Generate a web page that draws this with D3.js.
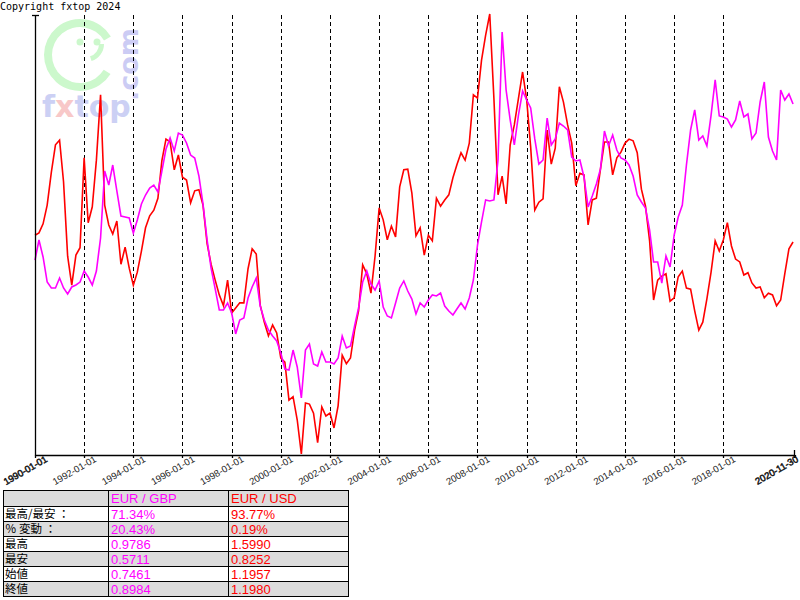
<!DOCTYPE html>
<html><head><meta charset="utf-8">
<script src="https://cdn.jsdelivr.net/npm/d3@7"></script>
<style>body{margin:0;background:#fff}svg{display:block}</style>
</head><body>
<svg id="c" width="800" height="600"></svg>
<script>
// EUR/USD, bimonthly readings 1990-01 .. 2020-11
const eurUsd = [
1.210,1.214,1.230,1.263,1.321,1.369,1.377,1.304,1.173,1.122,
1.175,1.188,1.346,1.232,1.260,1.342,1.457,1.263,1.228,1.212,
1.235,1.159,1.189,1.152,1.122,1.145,1.182,1.223,1.244,1.254,
1.275,1.341,1.379,1.374,1.325,1.351,1.312,1.307,1.267,1.288,
1.290,1.263,1.195,1.159,1.131,1.105,1.086,1.131,1.073,1.082,
1.091,1.091,1.151,1.186,1.177,1.087,1.057,1.033,1.052,1.038,
0.994,0.987,0.920,0.926,0.885,0.8252,0.915,0.913,0.897,0.845,
0.908,0.892,0.897,0.871,0.910,0.999,0.984,0.994,1.043,1.077,
1.158,1.142,1.108,1.173,1.258,1.237,1.202,1.226,1.207,1.295,
1.325,1.326,1.284,1.209,1.223,1.175,1.210,1.200,1.275,1.261,
1.272,1.281,1.311,1.334,1.355,1.342,1.372,1.457,1.451,1.518,
1.562,1.599,1.450,1.281,1.314,1.265,1.369,1.404,1.451,1.497,
1.448,1.365,1.254,1.268,1.274,1.395,1.335,1.363,1.471,1.444,
1.404,1.372,1.297,1.319,1.316,1.228,1.272,1.275,1.326,1.374,
1.374,1.316,1.346,1.356,1.372,1.379,1.376,1.355,1.291,1.261,
1.200,1.096,1.131,1.138,1.142,1.094,1.100,1.137,1.147,1.117,
1.115,1.077,1.043,1.057,1.098,1.144,1.200,1.182,1.202,1.232,
1.191,1.168,1.163,1.140,1.144,1.126,1.117,1.119,1.100,1.108,
1.105,1.086,1.096,1.142,1.186,1.198];

// EUR/GBP, bimonthly readings 1990-01 .. 2020-11
const eurGbp = [
0.7247,0.7470,0.7281,0.7002,0.6936,0.6936,0.7047,0.6936,0.6869,0.6947,
0.6969,0.7002,0.7125,0.7058,0.6969,0.7125,0.7492,0.8238,0.8082,0.8305,
0.8016,0.7737,0.7726,0.7715,0.7548,0.7693,0.7871,0.7971,0.8049,0.8082,
0.8005,0.8238,0.8483,0.8606,0.8461,0.8661,0.8639,0.8550,0.8416,0.8383,
0.8183,0.7871,0.7470,0.7158,0.6925,0.6691,0.6691,0.6769,0.6657,0.6424,
0.6579,0.6602,0.6824,0.6947,0.7047,0.6735,0.6579,0.6468,0.6401,0.6346,
0.6212,0.6034,0.6023,0.6245,0.6056,0.5711,0.6245,0.6312,0.6089,0.6067,
0.6223,0.6112,0.6112,0.6089,0.6156,0.6401,0.6268,0.6290,0.6513,0.6713,
0.7002,0.7125,0.6980,0.6913,0.7014,0.6724,0.6624,0.6602,0.6769,0.6936,
0.7014,0.6902,0.6813,0.6646,0.6769,0.6724,0.6802,0.6858,0.6847,0.6880,
0.6735,0.6680,0.6635,0.6702,0.6769,0.6702,0.6824,0.7025,0.7414,0.7671,
0.7916,0.7904,0.7916,0.8361,0.9786,0.9140,0.8806,0.8528,0.8862,0.9129,
0.9029,0.8940,0.8595,0.8316,0.8361,0.8828,0.8528,0.8595,0.8773,0.8739,
0.8695,0.8394,0.8350,0.8361,0.8172,0.7838,0.7960,0.8094,0.8261,0.8684,
0.8517,0.8639,0.8472,0.8383,0.8361,0.8305,0.8183,0.7971,0.7893,0.7826,
0.7581,0.7225,0.7225,0.6991,0.7292,0.7170,0.7526,0.7726,0.7860,0.8305,
0.8695,0.8918,0.8584,0.8628,0.8517,0.8851,0.9252,0.8851,0.8840,0.8817,
0.8728,0.8806,0.9018,0.8840,0.8873,0.8595,0.8661,0.9007,0.9229,0.8617,
0.8461,0.8361,0.9140,0.9029,0.9096,0.8984];

const tickLabels = ["1990-01-01","1992-01-01","1994-01-01","1996-01-01","1998-01-01",
  "2000-01-01","2002-01-01","2004-01-01","2006-01-01","2008-01-01","2010-01-01",
  "2012-01-01","2014-01-01","2016-01-01","2018-01-01","2020-11-30"];

const seriesNames = ["EUR / GBP", "EUR / USD"];
const seriesColors = ["#ff00ff", "#ff0000"];
const rowLabels = ["最高/最安 ：", "％ 変動 ：", "最高", "最安", "始値", "終値"];
const gbpStats = ["71.34%", "20.43%", "0.9786", "0.5711", "0.7461", "0.8984"];
const usdStats = ["93.77%", "0.19%", "1.5990", "0.8252", "1.1957", "1.1980"];

const svg = d3.select("#c");
const parse = d3.utcParse("%Y-%m-%d");
const dates = d3.utcMonth.every(2).range(Date.UTC(1990,0,1), Date.UTC(2020,11,1));

const L = 35, R = 795, T = 15, B = 455;
const x = d3.scaleUtc().domain([parse("1990-01-01"), parse("2020-11-30")]).range([L, R]);
const yUsd = d3.scaleLinear().domain([0.8252, 1.599]).range([454, 14]);
const yGbp = d3.scaleLinear().domain([0.5711, 0.9786]).range([398, 32]);

// copyright
svg.append("text").attr("x", 0).attr("y", 10)
  .attr("font-family", "DejaVu Sans Mono, monospace").attr("font-size", 10)
  .attr("fill", "#000").text("Copyright fxtop 2024");

// watermark
const wm = svg.append("g");
const green = "#ccf8cc";
const arc = d3.arc().innerRadius(28).outerRadius(36)
  .startAngle(2.13).endAngle(2 * Math.PI + 1.03);
wm.append("path").attr("d", arc()).attr("transform", "translate(80,55)").attr("fill", green);
wm.append("circle").attr("cx", 80).attr("cy", 42).attr("r", 3.5).attr("fill", green);
wm.append("circle").attr("cx", 97).attr("cy", 42).attr("r", 3.5).attr("fill", green);
const smile = d3.arc().innerRadius(13).outerRadius(18).startAngle(Math.PI * 0.5).endAngle(Math.PI * 0.9);
wm.append("path").attr("d", smile()).attr("transform", "translate(86,44)").attr("fill", green);
wm.append("text").attr("transform", "translate(138,101) rotate(-90)")
  .attr("font-family", "DejaVu Sans, sans-serif").attr("font-weight", "bold").attr("font-size", 27)
  .attr("fill", "#ccccf4").text(".com");
const ft = wm.append("text").attr("x", 42).attr("y", 117)
  .attr("font-family", "DejaVu Sans, sans-serif").attr("font-weight", "bold").attr("font-size", 30)
  .attr("fill", "#ccd0f4");
ft.append("tspan").text("f");
ft.append("tspan").attr("fill", "#f8c8c8").text("x");
ft.append("tspan").text("top");

// gridlines
const tickDates = tickLabels.map(parse);
svg.append("g").selectAll("line").data(tickDates.slice(1, -1)).join("line")
  .attr("x1", d => Math.round(x(d)) + 0.5).attr("x2", d => Math.round(x(d)) + 0.5)
  .attr("y1", T).attr("y2", B)
  .attr("stroke", "#000").attr("stroke-width", 1).attr("stroke-dasharray", "4,3");

// lines
const lineUsd = d3.line().x((d, i) => x(dates[i])).y(d => yUsd(d));
const lineGbp = d3.line().x((d, i) => x(dates[i])).y(d => yGbp(d));
svg.append("path").datum(eurUsd).attr("d", lineUsd).attr("fill", "none")
  .attr("stroke", seriesColors[1]).attr("stroke-width", 1.6).attr("stroke-linejoin", "miter");
svg.append("path").datum(eurGbp).attr("d", lineGbp).attr("fill", "none")
  .attr("stroke", seriesColors[0]).attr("stroke-width", 1.6).attr("stroke-linejoin", "miter");

// axes
const ax = svg.append("g").attr("stroke", "#000").attr("stroke-width", 1.3);
ax.append("line").attr("x1", L + 0.5).attr("x2", L + 0.5).attr("y1", T).attr("y2", B + 0.5);
ax.append("line").attr("x1", L - 3).attr("x2", L + 4).attr("y1", T + 0.5).attr("y2", T + 0.5);
ax.append("line").attr("x1", L).attr("x2", R).attr("y1", B + 0.5).attr("y2", B + 0.5);
ax.selectAll("line.t").data(tickDates).join("line").attr("class", "t")
  .attr("x1", d => Math.round(x(d)) + 0.5).attr("x2", d => Math.round(x(d)) + 0.5)
  .attr("y1", B).attr("y2", B + 3);
ax.append("line").attr("x1", R - 0.5).attr("x2", R - 0.5).attr("y1", B - 5).attr("y2", B + 3);

// tick labels (first and last drawn heavier, as in the original)
const lastI = tickLabels.length - 1;
svg.append("g").selectAll("text").data(tickLabels).join("text")
  .attr("transform", (d, i) => `translate(${x(tickDates[i]) + (i === lastI ? 4 : 13)},${B + 6}) rotate(-30)`)
  .attr("text-anchor", "end")
  .attr("font-family", "Liberation Sans, Arial, sans-serif").attr("font-size", 9.5)
  .attr("stroke", (d, i) => (i === 0 || i === lastI) ? "#111" : "none")
  .attr("stroke-width", 0.5)
  .attr("fill", "#222").text(d => d);

// table
const tx = [3, 108, 228, 348];
const ty = [490, 506, 521, 536, 551, 566, 581, 596];
const tb = svg.append("g");
const rowsAll = d3.range(7);
tb.selectAll("rect").data(rowsAll).join("rect")
  .attr("x", tx[0] + 0.5).attr("y", i => ty[i] + 0.5)
  .attr("width", tx[3] - tx[0]).attr("height", i => ty[i + 1] - ty[i])
  .attr("fill", i => (i % 2 === 0) ? "#dcdcdc" : "#ffffff")
  .attr("stroke", "#000").attr("stroke-width", 1);
tb.selectAll("line.c").data([tx[1], tx[2]]).join("line").attr("class", "c")
  .attr("x1", d => d + 0.5).attr("x2", d => d + 0.5).attr("y1", ty[0]).attr("y2", ty[7])
  .attr("stroke", "#000");
const tfont = "Liberation Sans, Arial, sans-serif";
tb.selectAll("text.h").data(seriesNames).join("text").attr("class", "h")
  .attr("x", (d, i) => tx[i + 1] + 3).attr("y", ty[0] + 13)
  .attr("font-family", tfont).attr("font-size", 13).attr("fill", (d, i) => seriesColors[i]).text(d => d);
tb.selectAll("text.l").data(rowLabels).join("text").attr("class", "l")
  .attr("x", tx[0] + 2).attr("y", (d, i) => ty[i + 1] + 12)
  .attr("font-family", "Noto Sans CJK JP, sans-serif").attr("font-size", 11.5).attr("fill", "#000").text(d => d);
tb.selectAll("text.g").data(gbpStats).join("text").attr("class", "g")
  .attr("x", tx[1] + 3).attr("y", (d, i) => ty[i + 1] + 13)
  .attr("font-family", tfont).attr("font-size", 13).attr("fill", seriesColors[0]).text(d => d);
tb.selectAll("text.u").data(usdStats).join("text").attr("class", "u")
  .attr("x", tx[2] + 3).attr("y", (d, i) => ty[i + 1] + 13)
  .attr("font-family", tfont).attr("font-size", 13).attr("fill", seriesColors[1]).text(d => d);
</script>
</body></html>
